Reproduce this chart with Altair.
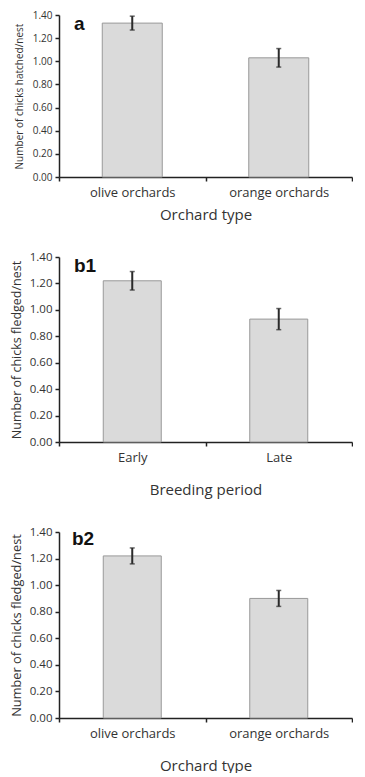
import altair as alt
import pandas as pd

# Panel a
a_cats = ["olive orchards", "orange orchards"]
a_mean = [1.33, 1.03]
a_lo = [1.27, 0.95]
a_hi = [1.39, 1.11]

# Panel b1
b1_cats = ["Early", "Late"]
b1_mean = [1.22, 0.93]
b1_lo = [1.15, 0.85]
b1_hi = [1.29, 1.01]

# Panel b2
b2_cats = ["olive orchards", "orange orchards"]
b2_mean = [1.22, 0.90]
b2_lo = [1.16, 0.84]
b2_hi = [1.28, 0.96]

y_ticks = [0.0, 0.2, 0.4, 0.6, 0.8, 1.0, 1.2, 1.4]

FONT = "Open Sans"
AX = "#222222"
TXT = "#333333"


def panel(cats, mean, lo, hi, label, ytitle, xtitle, h, barw,
          tick_fs, ytitle_fs, xlab_fs, ytitle_pad, xtitle_pad, lab_dx, lab_dy):
    df = pd.DataFrame({"cat": cats, "mean": mean, "lo": lo, "hi": hi})
    x = alt.X("cat:N", sort=cats,
              scale=alt.Scale(paddingInner=0, paddingOuter=0),
              axis=alt.Axis(title=xtitle, labelAngle=0, tickBand="extent",
                            domainColor=AX, tickColor=AX, domainWidth=1.5, tickWidth=1.5,
                            tickSize=4, labelFont=FONT, labelFontSize=xlab_fs,
                            labelColor=TXT, labelPadding=5,
                            titleFont=FONT, titleFontSize=15, titleFontWeight="normal",
                            titleColor=TXT, titlePadding=xtitle_pad))
    yaxis = alt.Axis(title=ytitle, values=y_ticks, format=".2f",
                     labelOverlap=False, tickCount=8,
                     domainColor=AX, tickColor=AX, domainWidth=1.5, tickWidth=1.5,
                     tickSize=4, labelFont=FONT, labelFontSize=tick_fs,
                     labelColor=TXT, labelPadding=3, grid=False,
                     titleFont=FONT, titleFontSize=ytitle_fs,
                     titleFontWeight="normal", titleColor=TXT,
                     titlePadding=ytitle_pad)
    yscale = alt.Scale(domain=[0, 1.4], nice=False)
    base = alt.Chart(df)
    bars = base.mark_bar(size=barw, fill="#dadada", stroke="#999999",
                         strokeWidth=1).encode(
        x=x, y=alt.Y("mean:Q", scale=yscale, axis=yaxis))
    rule = base.mark_rule(color="#2a2a2a", strokeWidth=2).encode(
        x=x, y=alt.Y("lo:Q", scale=yscale, axis=yaxis), y2="hi:Q")
    cap_hi = base.mark_tick(color="#2a2a2a", thickness=1.5, size=5).encode(
        x=x, y=alt.Y("hi:Q", scale=yscale, axis=yaxis))
    cap_lo = base.mark_tick(color="#2a2a2a", thickness=1.5, size=5).encode(
        x=x, y=alt.Y("lo:Q", scale=yscale, axis=yaxis))
    lab = alt.Chart(pd.DataFrame({"t": [label]})).mark_text(
        font="Liberation Sans", fontWeight="bold", fontSize=19, align="left",
        baseline="top", color="#111111", dx=lab_dx, dy=lab_dy
    ).encode(text="t:N", x=alt.value(0), y=alt.value(0))
    return alt.layer(bars, rule, cap_hi, cap_lo, lab).properties(width=293, height=h)


pa = panel(a_cats, a_mean, a_lo, a_hi, "a", "Number of chicks hatched/nest",
           "Orchard type", 162, 60, 10, 10, 13, 8, 8, 15, 0)
pb1 = panel(b1_cats, b1_mean, b1_lo, b1_hi, "b1", "Number of chicks fledged/nest",
            "Breeding period", 185, 58, 11.5, 12.5, 13, 6, 18, 15, 0)
pb2 = panel(b2_cats, b2_mean, b2_lo, b2_hi, "b2", "Number of chicks fledged/nest",
            "Orchard type", 186, 58, 11.5, 12.8, 13, 6, 18, 13, -2)

chart = alt.vconcat(pa, pb1, pb2, spacing=29).properties(
    padding={"left": 2, "top": 2, "right": 0, "bottom": 0}
).configure_view(stroke=None).configure_axis(labelOverlap=False)

chart.save("out.html", embed_options={"renderer": "svg", "actions": False})
